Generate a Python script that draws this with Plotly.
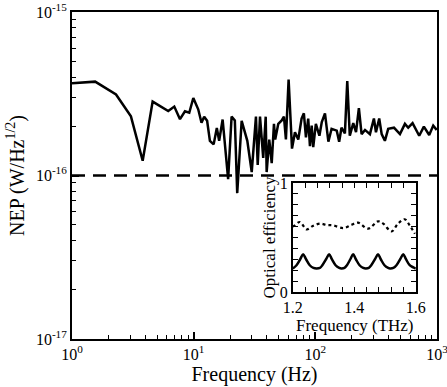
import plotly.graph_objects as go

# main NEP spectrum
freq_hz = [1.0, 1.55, 2.30, 3.05, 3.81, 4.60, 6.18, 6.93, 7.72, 8.48, 9.2, 9.93,
           10.9, 11.6, 12.2, 12.9, 13.6, 14.6, 15.5, 16.2, 17.3, 19.2, 20.5, 21.8,
           22.8, 24.8, 27.6, 30.0, 32.5, 33.6, 35.1, 37.3, 39.1, 39.8, 41.8, 43.8,
           45.7, 46.8, 49.6, 52.9, 55.2, 57.3, 60.3, 64.3, 68.0, 72.4, 77.1, 80.5,
           83.7, 87.4, 90.3, 93.3, 96.1, 101, 108, 113, 120, 128, 136, 150, 157,
           164, 175, 183, 192, 205, 216, 228, 240, 256, 281, 303, 315, 335, 351,
           373, 397, 443, 496, 545, 580, 630, 714, 780, 863, 931, 993]
nep = [3.66e-16, 3.75e-16, 3.13e-16, 2.30e-16, 1.23e-16, 2.83e-16, 2.48e-16,
       2.64e-16, 2.21e-16, 2.47e-16, 2.42e-16, 2.98e-16, 2.54e-16, 2.10e-16,
       2.29e-16, 2.16e-16, 1.63e-16, 1.55e-16, 1.95e-16, 1.63e-16, 2.20e-16,
       9.5e-17, 2.29e-16, 2.17e-16, 7.8e-17, 2.16e-16, 1.63e-16, 1.05e-16,
       2.29e-16, 1.16e-16, 2.29e-16, 1.28e-16, 2.29e-16, 1.05e-16, 1.66e-16,
       1.19e-16, 2.07e-16, 1.66e-16, 2.07e-16, 2.17e-16, 2.29e-16, 1.66e-16,
       3.86e-16, 1.46e-16, 1.84e-16, 1.66e-16, 2.23e-16, 2.40e-16, 1.71e-16,
       2.23e-16, 1.51e-16, 2.02e-16, 1.49e-16, 2.07e-16, 1.75e-16, 2.12e-16,
       2.40e-16, 1.61e-16, 1.93e-16, 1.88e-16, 1.61e-16, 1.96e-16, 1.81e-16,
       3.78e-16, 1.75e-16, 2.09e-16, 1.84e-16, 2.58e-16, 1.79e-16, 1.90e-16,
       1.79e-16, 2.23e-16, 1.84e-16, 2.23e-16, 1.79e-16, 1.63e-16, 1.93e-16,
       1.96e-16, 1.79e-16, 2.07e-16, 1.96e-16, 2.09e-16, 1.75e-16, 1.99e-16,
       1.77e-16, 2.02e-16, 1.90e-16]
nep_level = 1e-16

# inset: optical efficiency
thz_solid = [1.200, 1.212, 1.224, 1.2335, 1.243, 1.255, 1.267, 1.277, 1.288,
             1.296, 1.308, 1.318, 1.327, 1.339, 1.351, 1.358, 1.368, 1.376,
             1.387, 1.396, 1.405, 1.417, 1.429, 1.437, 1.447, 1.455, 1.467,
             1.477, 1.486, 1.498, 1.510, 1.516, 1.527, 1.537, 1.549, 1.559,
             1.568, 1.580, 1.592, 1.600]
eff_solid = [0.215, 0.245, 0.30, 0.345, 0.30, 0.245, 0.22, 0.215, 0.22,
             0.245, 0.30, 0.345, 0.30, 0.245, 0.22, 0.215, 0.22, 0.245,
             0.30, 0.345, 0.30, 0.245, 0.22, 0.215, 0.22, 0.245, 0.30,
             0.345, 0.30, 0.245, 0.22, 0.215, 0.22, 0.245, 0.30, 0.345,
             0.30, 0.245, 0.225, 0.215]
thz_dot = [1.200, 1.2065, 1.223, 1.245, 1.265, 1.288, 1.310, 1.331, 1.364,
           1.390, 1.412, 1.445, 1.477, 1.494, 1.521, 1.542, 1.564, 1.580, 1.597]
eff_dot = [0.60, 0.611, 0.642, 0.574, 0.605, 0.627, 0.615, 0.611, 0.586,
           0.615, 0.636, 0.581, 0.648, 0.627, 0.556, 0.627, 0.667, 0.611, 0.534]

major_x = [1, 10, 100, 1000]
major_x_text = ["10<sup>0</sup>", "10<sup>1</sup>", "10<sup>2</sup>", "10<sup>3</sup>"]
minor_x = [m * 10 ** k for k in range(3) for m in range(2, 10)]
major_y = [1e-17, 1e-16, 1e-15]
major_y_text = ["10<sup>-17</sup>", "10<sup>-16</sup>", "10<sup>-15</sup>"]
minor_y = [m * 10.0 ** k for k in (-17, -16) for m in range(2, 10)]

font = "Liberation Serif, Times New Roman, serif"

fig = go.Figure()
fig.add_trace(go.Scatter(x=freq_hz, y=nep, mode="lines",
                         line=dict(color="black", width=2.5)))
fig.add_trace(go.Scatter(x=[1, 1000], y=[nep_level, nep_level], mode="lines",
                         line=dict(color="black", width=2.5, dash="13px,8px")))
fig.add_trace(go.Scatter(x=thz_dot, y=eff_dot, mode="lines", xaxis="x2", yaxis="y2",
                         line=dict(color="black", width=2.2, dash="dot", shape="spline")))
fig.add_trace(go.Scatter(x=thz_solid, y=eff_solid, mode="lines", xaxis="x2", yaxis="y2",
                         line=dict(color="black", width=2.5, shape="spline")))

fig.update_layout(
    width=447, height=387,
    margin=dict(l=72, r=10, t=12, b=48),
    paper_bgcolor="white", plot_bgcolor="white",
    showlegend=False,
    font=dict(family=font, size=16, color="black"),
    xaxis=dict(type="log", range=[0, 3], showgrid=False, zeroline=False, automargin=False,
               showline=True, linecolor="black", linewidth=2, mirror=True,
               ticks="inside", ticklen=7, tickwidth=1.5, tickcolor="black",
               tickvals=major_x, ticktext=major_x_text, ticklabeloverflow="allow",
               minor=dict(tickvals=minor_x, ticks="inside", ticklen=4,
                          tickcolor="black", tickwidth=1, showgrid=False),
               title=dict(text="Frequency (Hz)", font=dict(size=20), standoff=0),
               tickfont=dict(size=16)),
    yaxis=dict(type="log", range=[-17, -15], showgrid=False, zeroline=False, automargin=False,
               showline=True, linecolor="black", linewidth=2, mirror=True,
               ticks="inside", ticklen=7, tickwidth=1.5, tickcolor="black",
               tickvals=major_y, ticktext=major_y_text, ticklabeloverflow="allow",
               minor=dict(tickvals=minor_y, ticks="inside", ticklen=4,
                          tickcolor="black", tickwidth=1, showgrid=False),
               title=dict(text="NEP (W/Hz<sup>1/2</sup>)", font=dict(size=20), standoff=6),
               tickfont=dict(size=16)),
    xaxis2=dict(domain=[0.605, 0.942], anchor="y2", range=[1.2, 1.6], automargin=False,
                showgrid=False, zeroline=False,
                showline=True, linecolor="black", linewidth=2, mirror="ticks",
                ticks="inside", ticklen=5, tickwidth=1.2, tickcolor="black",
                tickvals=[1.2, 1.4, 1.6], ticktext=["1.2", "1.4", "1.6"],
                minor=dict(dtick=0.04, ticks="inside", ticklen=5,
                           tickcolor="black", tickwidth=1.2, showgrid=False),
                tickfont=dict(size=16)),
    yaxis2=dict(domain=[0.144, 0.477], anchor="x2", range=[0, 1], automargin=False,
                showgrid=False, zeroline=False,
                showline=True, linecolor="black", linewidth=2, mirror="ticks",
                ticks="inside", ticklen=5, tickwidth=1.2, tickcolor="black",
                tickvals=[0, 1], ticktext=["0", "1"],
                minor=dict(dtick=0.1, ticks="inside", ticklen=5,
                           tickcolor="black", tickwidth=1.2, showgrid=False),
                title=dict(text="Optical efficiency", font=dict(size=17), standoff=0),
                tickfont=dict(size=16)),
)

# inset x title sits tight under its tick labels
fig.add_annotation(text="Frequency (THz)", xref="paper", yref="paper",
                   x=0.774, y=0.040, xanchor="center", yanchor="middle",
                   showarrow=False, font=dict(size=17))

# page has a default body margin; drop it so the figure sits at the corner
fig.write_html("out.html", config={"displayModeBar": False},
               post_script="document.body.style.margin='0';")
